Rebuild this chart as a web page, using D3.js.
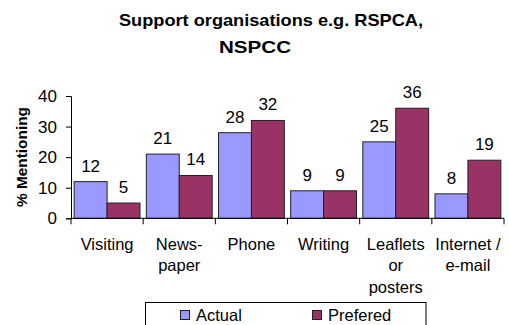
<!DOCTYPE html>
<html>
<head>
<meta charset="utf-8">
<script src="https://cdn.jsdelivr.net/npm/d3@7"></script>
<style>
  html, body { margin: 0; padding: 0; background: #fff; }
  svg { display: block; font-family: "Liberation Sans", Arial, sans-serif; }
</style>
</head>
<body>
<svg id="chart" width="509" height="325"></svg>
<script>
// Survey results: how people hear from support organisations
const categories = [["Visiting"], ["News-", "paper"], ["Phone"], ["Writing"], ["Leaflets", "or", "posters"], ["Internet /", "e-mail"]];
const seriesNames = ["Actual", "Prefered"];
const actual = [12, 21, 28, 9, 25, 8];
const prefered = [5, 14, 32, 9, 36, 19];
const yTicks = [0, 10, 20, 30, 40];
const titleLines = ["Support organisations e.g. RSPCA,", "NSPCC"];
const colors = ["#9999FF", "#993366"];

const svg = d3.select("#chart");
const plot = { left: 71, right: 504, top: 96, bottom: 218.3 };

const x0 = d3.scaleBand()
  .domain(d3.range(categories.length))
  .range([plot.left, plot.right])
  .paddingInner(0)
  .paddingOuter(0);
const x1 = d3.scaleBand()
  .domain(seriesNames)
  .range([0, x0.bandwidth()])
  .paddingInner(0)
  .paddingOuter(0.096);
const y = d3.scaleLinear().domain([0, 40]).range([plot.bottom, plot.top]);

// Title
svg.append("text")
  .attr("x", 271).attr("y", 25.5)
  .attr("text-anchor", "middle")
  .attr("font-weight", "bold").attr("font-size", 17)
  .attr("textLength", 304).attr("lengthAdjust", "spacingAndGlyphs")
  .text(titleLines[0]);
svg.append("text")
  .attr("x", 255).attr("y", 52.5)
  .attr("text-anchor", "middle")
  .attr("font-weight", "bold").attr("font-size", 17)
  .attr("textLength", 72).attr("lengthAdjust", "spacingAndGlyphs")
  .text(titleLines[1]);

// Y axis title
svg.append("text")
  .attr("transform", "translate(27,157) rotate(-90)")
  .attr("text-anchor", "middle")
  .attr("font-weight", "bold").attr("font-size", 15)
  .attr("textLength", 100).attr("lengthAdjust", "spacingAndGlyphs")
  .text("% Mentioning");

// Bars
const rows = categories.map((c, i) => ({ i, values: [actual[i], prefered[i]] }));
const groups = svg.append("g").selectAll("g")
  .data(rows).join("g")
  .attr("transform", d => `translate(${x0(d.i)},0)`);

groups.selectAll("rect")
  .data(d => d.values.map((v, k) => ({ v, k })))
  .join("rect")
  .attr("x", d => x1(seriesNames[d.k]))
  .attr("y", d => y(d.v))
  .attr("width", x1.bandwidth())
  .attr("height", d => y(0) - y(d.v))
  .attr("fill", d => colors[d.k])
  .attr("stroke", "#222")
  .attr("stroke-width", 1);

groups.selectAll("text.val")
  .data(d => d.values.map((v, k) => ({ v, k })))
  .join("text")
  .attr("class", "val")
  .attr("x", d => x1(seriesNames[d.k]) + x1.bandwidth() / 2)
  .attr("y", d => y(d.v) - 10)
  .attr("text-anchor", "middle")
  .attr("font-size", 17)
  .text(d => d.v);

// Y axis
const yAxis = svg.append("g")
  .attr("transform", `translate(${plot.left},0)`)
  .call(d3.axisLeft(y).tickValues(yTicks).tickSize(5).tickPadding(9));
yAxis.select(".domain").attr("stroke", "#000");
yAxis.selectAll(".tick line").attr("stroke", "#000");
yAxis.selectAll(".tick text")
  .attr("font-size", 17).attr("font-family", "Liberation Sans, Arial, sans-serif")
  .attr("fill", "#000");

// X axis with category boundary ticks
const xAxisG = svg.append("g");
xAxisG.append("line")
  .attr("x1", plot.left).attr("x2", plot.right)
  .attr("y1", plot.bottom).attr("y2", plot.bottom)
  .attr("stroke", "#000");
const boundaries = d3.range(categories.length + 1).map(i => plot.left + i * x0.step());
xAxisG.selectAll("line.bt")
  .data(boundaries).join("line")
  .attr("class", "bt")
  .attr("x1", d => d).attr("x2", d => d)
  .attr("y1", plot.bottom).attr("y2", plot.bottom + 6)
  .attr("stroke", "#000");

const catLabels = svg.append("g").selectAll("text")
  .data(categories).join("text")
  .attr("x", (d, i) => x0(i) + x0.bandwidth() / 2)
  .attr("y", 249.5)
  .attr("text-anchor", "middle")
  .attr("font-size", 16.5);
catLabels.selectAll("tspan")
  .data(d => d).join("tspan")
  .attr("x", function() { return this.parentNode.getAttribute("x"); })
  .attr("dy", (d, j) => j === 0 ? 0 : 21.8)
  .text(d => d);

// Legend
const legend = svg.append("g");
legend.append("rect")
  .attr("x", 145.5).attr("y", 302.5)
  .attr("width", 280.5).attr("height", 40)
  .attr("fill", "#fff").attr("stroke", "#000");
const legendX = [180, 312];
seriesNames.forEach((name, k) => {
  legend.append("rect")
    .attr("x", legendX[k] + 0.5).attr("y", 310.5)
    .attr("width", 9).attr("height", 9)
    .attr("fill", colors[k]).attr("stroke", "#222");
  legend.append("text")
    .attr("x", legendX[k] + 16).attr("y", 320.5)
    .attr("font-size", 16.5)
    .text(name);
});
</script>
</body>
</html>
